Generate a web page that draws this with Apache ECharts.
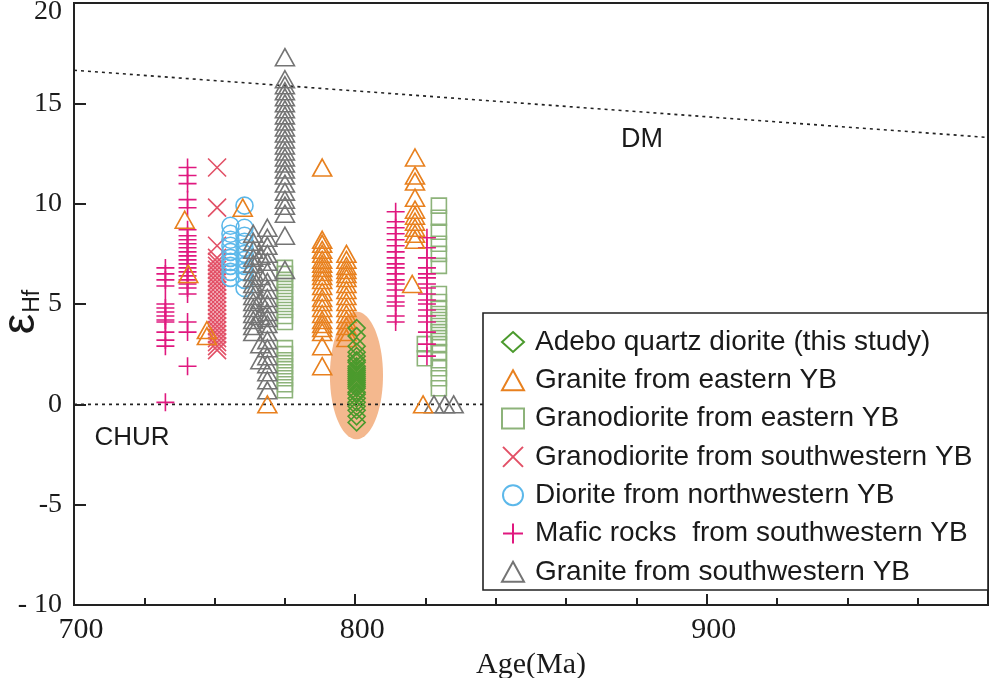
<!DOCTYPE html>
<html>
<head>
<meta charset="utf-8">
<script src="https://cdn.jsdelivr.net/npm/echarts@6/dist/echarts.min.js"></script>
<style>
  html, body { margin: 0; padding: 0; background: #fff; }
  #chart { width: 991px; height: 678px; }
</style>
</head>
<body>
<div id="chart"></div>
<script>
// Age axis ticks and labels
const ageTickValues = [720, 800, 900];
const ageTickLabels = ['700', '800', '900'];
const ageMajorTicks = [800, 900];

// Reference evolution lines (age, eHf)
const dmLine = [[720, 16.65], [980, 13.3]];
const churLine = [[720, 0], [980, 0]];

// Field around the Adebo analyses: centre age, centre eHf, half-width (Ma), half-height (eHf)
const adeboField = [[800.35, 1.44, 7.55, 3.18]];

// Adebo quartz diorite (this study)
const adeboAge = 800.4;
const adeboEhf = [3.8, 3.4, 2.9, 2.6, 2.4, 2.2, 2.1, 1.9, 1.8, 1.7, 1.6, 1.5, 1.4, 1.3, 1.2,
  1.1, 1.0, 0.9, 0.8, 0.6, 0.5, 0.3, 0.1, -0.1, -0.3, -0.6, -0.9];

// Granite from eastern YB: [age, eHf values]
const graniteEast = [
  [751.5, [9.2]], [752.5, [6.5]], [757.8, [3.7, 3.4]], [768, [9.8]], [775, [0.0]],
  [790.6, [11.8, 8.2, 8.0, 7.7, 7.5, 7.2, 7.0, 6.8, 6.6, 6.4, 6.2, 5.9, 5.6, 5.3, 5.1, 4.8,
    4.5, 4.2, 4.0, 3.8, 3.6, 2.9, 1.9]],
  [797.5, [7.5, 7.2, 6.9, 6.7, 6.5, 6.3, 6.0, 5.7, 5.4, 5.1, 4.8, 4.5, 4.2, 3.9, 3.6, 3.3]],
  [817, [12.3, 11.4, 11.1, 10.3, 9.7, 9.4, 9.1, 8.8, 8.5, 8.2]], [816.2, [6.0]], [819.3, [0.0]]
];

// Granodiorite from eastern YB
const granodioriteEast = [
  [780, [6.8, 6.5, 6.2, 5.9, 5.6, 5.3, 5.0, 4.7, 4.4, 4.1, 2.8, 2.5, 2.2, 1.9, 1.6, 1.3, 1.0, 0.7]],
  [823.8, [9.9, 9.3, 8.6, 8.0, 7.5, 6.9, 5.5, 5.1, 4.8, 4.5, 4.2, 3.9, 3.6, 3.3, 3.0, 2.6,
    2.2, 1.8, 1.3, 0.8]],
  [819.8, [3.0, 2.3]]
];

// Granodiorite from southwestern YB
const granodioriteSW = [
  [760.7, [11.8, 9.8, 7.9, 7.3, 7.1, 6.9, 6.7, 6.5, 6.3, 6.1, 5.9, 5.7, 5.5, 5.3, 5.1, 4.9,
    4.7, 4.5, 4.3, 4.1, 3.9, 3.7, 3.5, 3.3, 3.1, 2.9, 2.7]]
];

// Diorite from northwestern YB
const dioriteNW = [
  [764.5, [8.9, 8.5, 8.2, 7.9, 7.6, 7.3, 7.1, 6.9, 6.6, 6.3]],
  [768.5, [9.9, 8.8, 8.4, 8.1, 7.8, 7.5, 7.2, 6.9, 6.6, 6.2, 5.8]]
];

// Mafic rocks from southwestern YB
const maficSW = [
  [746, [6.8, 6.5, 6.2, 5.9, 5.0, 4.8, 4.6, 4.4, 4.2, 4.1, 3.6, 3.2, 2.9, 0.1]],
  [752.3, [11.8, 11.4, 11.0, 10.2, 9.8, 8.7, 8.4, 8.2, 8.0, 7.8, 7.6, 7.4, 7.2, 7.0, 6.8,
    6.6, 6.4, 6.2, 6.0, 5.8, 5.5, 4.1, 3.6, 1.9]],
  [811.5, [9.6, 9.1, 8.8, 8.5, 8.2, 7.9, 7.6, 7.3, 7.0, 6.8, 6.5, 6.2, 6.0, 5.7, 5.4, 5.1,
    4.9, 4.4, 4.1]],
  [820.4, [8.3, 7.8, 7.3, 6.8, 6.5, 6.3, 6.0, 5.8, 5.5, 5.2, 5.0, 4.7, 4.4, 4.1, 3.6, 3.0, 2.4]]
];

// Granite from southwestern YB
const graniteSW = [
  [780, [17.3, 16.2, 15.9, 15.6, 15.3, 15.0, 14.7, 14.4, 14.1, 13.8, 13.5, 13.2, 12.9, 12.6,
    12.3, 12.0, 11.7, 11.4, 11.0, 10.6, 10.2, 9.9, 9.5, 8.4, 6.7]],
  [771, [8.5, 8.1, 7.7, 7.3, 7.0, 6.6, 6.3, 6.0, 5.7, 5.4, 5.1, 4.8, 4.5, 4.2, 3.9, 3.6]],
  [775, [8.8, 8.3, 7.9, 7.5, 7.1, 6.6, 6.1, 5.7, 5.3, 5.0, 4.6, 4.3, 4.0, 3.6, 3.2, 2.8, 2.4,
    2.0, 1.6, 1.2, 0.7]],
  [773, [7.4, 6.4, 5.2, 4.4, 3.0, 2.2]],
  [822.4, [0.0]], [825.5, [0.0]], [828, [0.0]]
];

const seriesNames = [
  'Adebo quartz diorite (this study)',
  'Granite from eastern YB',
  'Granodiorite from eastern YB',
  'Granodiorite from southwestern YB',
  'Diorite from northwestern YB',
  'Mafic rocks  from southwestern YB',
  'Granite from southwestern YB'
];

// flatten [age, [values]] groups into scatter points
function points(groups) {
  const out = [];
  groups.forEach(([age, vals]) => vals.forEach(v => out.push([age, v])));
  return out;
}

const PLUS = 'path://M0,10L20,10M10,0L10,20';
const CROSS = 'path://M0,0L20,20M20,0L0,20';
const clear = 'rgba(0,0,0,0)';

function hollow(name, data, symbol, size, color, z) {
  return {
    type: 'scatter', name, data, symbol, symbolSize: size, symbolKeepAspect: false,
    z: z,
    itemStyle: { color: clear, borderColor: color, borderWidth: 1.6, opacity: 1 },
    emphasis: { disabled: true }
  };
}

const chart = echarts.init(document.getElementById('chart'), null, { renderer: 'canvas' });

const serif = 'Liberation Serif';
const sans = 'Liberation Sans';
const ink = '#1a1a1a';

chart.setOption({
  animation: false,
  backgroundColor: '#fff',
  grid: {
    left: 74, right: 3, top: 3, bottom: 73, containLabel: false, outerBoundsMode: 'none',
    show: true, borderColor: '#222', borderWidth: 2
  },
  xAxis: [
    {
      type: 'value', min: 720, max: 980, interval: 20,
      splitLine: { show: false },
      axisLine: { onZero: false, lineStyle: { color: '#222', width: 2 } },
      axisTick: { inside: true, length: 7, lineStyle: { color: '#222', width: 2 } },
      axisLabel: {
        customValues: ageTickValues,
        formatter: v => ageTickLabels[ageTickValues.indexOf(v)],
        color: ink, fontFamily: serif, fontSize: 30, margin: 10,
        padding: [0, 0, 0, 14]
      },
      name: 'Age(Ma)', nameLocation: 'middle', nameGap: 39,
      nameTextStyle: { color: ink, fontFamily: serif, fontSize: 30 }
    },
    {
      // longer ticks at the labelled hundreds
      type: 'value', min: 720, max: 980, position: 'bottom',
      splitLine: { show: false },
      axisLine: { show: false, onZero: false },
      axisTick: { inside: true, length: 11, customValues: ageMajorTicks, lineStyle: { color: '#222', width: 2 } },
      axisLabel: { show: false }
    }
  ],
  yAxis: {
    type: 'value', min: -10, max: 20, interval: 5,
    splitLine: { show: false },
    axisLine: { onZero: false, lineStyle: { color: '#222', width: 2 } },
    axisTick: { inside: true, length: 12, lineStyle: { color: '#222', width: 2 } },
    axisLabel: {
      formatter: v => (v === 20 ? '{top|20}' : v === -10 ? '- 10' : String(v)),
      rich: { top: { fontFamily: serif, fontSize: 28, color: ink, padding: [17, 0, 0, 0] } },
      color: ink, fontFamily: serif, fontSize: 28, margin: 12
    }
  },
  legend: {
    orient: 'vertical', left: 496, top: 322, z: 60,
    data: seriesNames,
    itemWidth: 22, itemHeight: 20, itemGap: 8.3,
    textStyle: { fontFamily: sans, fontSize: 28, color: ink, lineHeight: 30, padding: [0, 0, 0, 6] },
    selectedMode: false
  },
  graphic: [
    { type: 'rect', z: 50, shape: { x: 483, y: 313, width: 505, height: 277 },
      style: { fill: '#fff', stroke: '#222', lineWidth: 1.6 } },
    { type: 'text', z: 50, x: 642, y: 140,
      style: { text: 'DM', fontFamily: sans, fontSize: 27, fill: ink, align: 'center', verticalAlign: 'middle' } },
    { type: 'text', z: 50, x: 132, y: 438,
      style: { text: 'CHUR', fontFamily: sans, fontSize: 26, fill: ink, align: 'center', verticalAlign: 'middle' } },
    { type: 'text', z: 50, x: 21, y: 312, rotation: Math.PI / 2,
      style: {
        text: '{e|ε}{s|Hf}', align: 'center', verticalAlign: 'middle',
        rich: {
          e: { fontFamily: sans, fontSize: 46, fill: ink, verticalAlign: 'bottom' },
          s: { fontFamily: sans, fontSize: 23, fill: ink, verticalAlign: 'bottom', padding: [0, 0, 0, 1] }
        }
      } }
  ],
  series: [
    {
      type: 'custom', name: 'field', z: 1, silent: true,
      data: adeboField,
      renderItem: (params, api) => {
        const cx = api.value(0), cy = api.value(1), rx = api.value(2), ry = api.value(3);
        const pts = [];
        for (let i = 0; i < 90; i++) {
          const a = (i / 90) * Math.PI * 2;
          pts.push(api.coord([cx + rx * Math.cos(a), cy + ry * Math.sin(a)]));
        }
        return { type: 'polygon', shape: { points: pts }, style: { fill: '#f4b88e' } };
      }
    },
    {
      type: 'line', name: 'DM', data: dmLine, symbol: 'none', silent: true, z: 1,
      lineStyle: { color: '#222', width: 1.6, type: [3, 4] }
    },
    {
      type: 'line', name: 'CHUR', data: churLine, symbol: 'none', silent: true, z: 1,
      lineStyle: { color: '#222', width: 1.6, type: [3, 4] }
    },
    hollow(seriesNames[2], points(granodioriteEast), 'rect', 15, '#8db37a', 2),
    hollow(seriesNames[5], points(maficSW), PLUS, 18, '#e0187f', 3),
    hollow(seriesNames[3], points(granodioriteSW), CROSS, 18, '#e25066', 3),
    hollow(seriesNames[4], points(dioriteNW), 'circle', 17, '#5cb8ea', 3),
    hollow(seriesNames[6], points(graniteSW), 'triangle', [19, 17], '#747474', 4),
    hollow(seriesNames[1], points(graniteEast), 'triangle', [19, 17], '#e8801e', 5),
    hollow(seriesNames[0], adeboEhf.map(v => [adeboAge, v]), 'diamond', 17, '#4b9a2d', 6)
  ]
});
</script>
</body>
</html>
